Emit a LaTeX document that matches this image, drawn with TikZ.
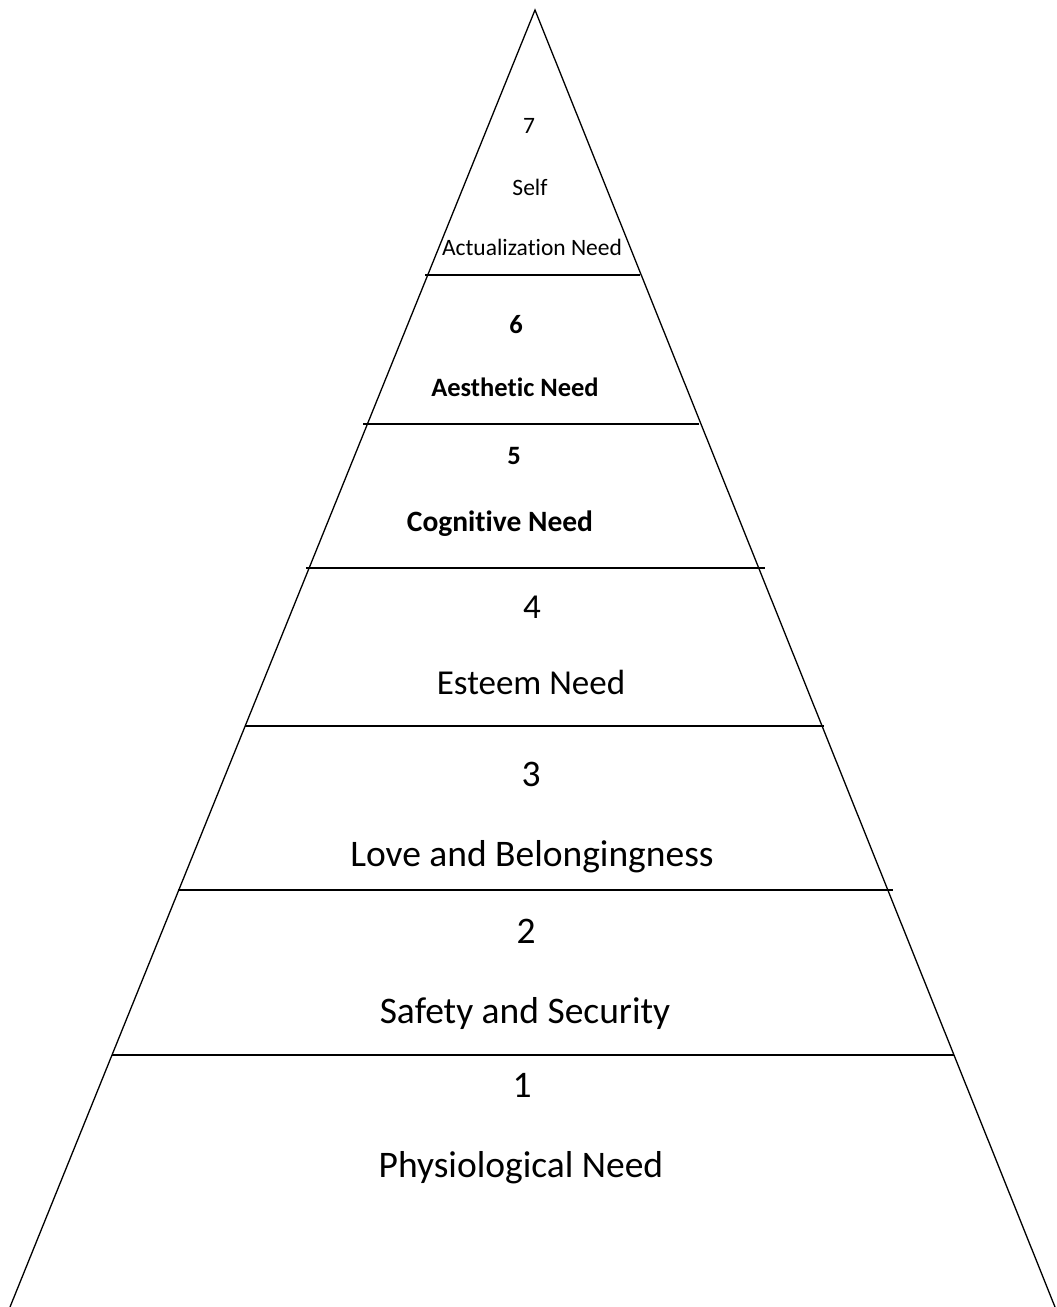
\documentclass[tikz,border=0pt]{standalone}
\usepackage{fontspec}
\setmainfont{Carlito}[Ligatures=NoCommon]
\usepackage{tikz}
\tikzset{
  edge/.style={line width=1.3pt},
  level/.style={anchor=base, inner sep=0pt, font=\fontsize{37.5}{45}\selectfont},
  toplevel/.style={anchor=base, inner sep=0pt, font=\fontsize{23.5}{28}\selectfont},
  boldlevel/.style={anchor=base, inner sep=0pt, font=\fontsize{26.5}{32}\selectfont\bfseries}
}

\begin{document}
\begin{tikzpicture}[x=1pt, y=-1pt]
    \useasboundingbox (0,0) rectangle (1057,1307);

    % Pyramid outline
    \coordinate (apex) at (535,10);
    \coordinate (baseL) at (10,1307);
    \coordinate (baseR) at (1055,1307);
    \draw[edge, line join=miter] (baseL) -- (apex) -- (baseR);

    % Level dividers
    \foreach \y/\xl/\xr in {275/425/640, 424/363/699, 568/306/765, 726/245/824, 890/178/893, 1055/112/954} {
        \draw[edge] (\xl,\y) -- (\xr,\y);
    }

    % Level 7
    \node[toplevel] (n7) at (529,133) {7};
    \node[toplevel] (self) at (530,195) {Self};
    \node[toplevel] (actual) at (532,255) {Actualization Need};

    % Levels 6 and 5
    \node[boldlevel] (n6) at (516,333) {6};
    \node[boldlevel] (aesth) at (515,396) {Aesthetic Need};
    \node[boldlevel] (n5) at (514,464) {5};
    \node[boldlevel, font=\fontsize{29.5}{35}\selectfont\bfseries] (cogn) at (500,531) {Cognitive Need};

    % Levels 4 to 1
    \node[level, font=\fontsize{35}{42}\selectfont] (n4) at (532,618) {4};
    \node[level, font=\fontsize{35}{42}\selectfont] (esteem) at (531,694) {Esteem Need};
    \node[level] (n3) at (531,786) {3};
    \node[level] (love) at (532,866) {Love and Belongingness};
    \node[level] (n2) at (526,943) {2};
    \node[level] (safety) at (525,1023) {Safety and Security};
    \node[level] (n1) at (522,1097) {1};
    \node[level] (physio) at (521,1177) {Physiological Need};
\end{tikzpicture}
\end{document}
